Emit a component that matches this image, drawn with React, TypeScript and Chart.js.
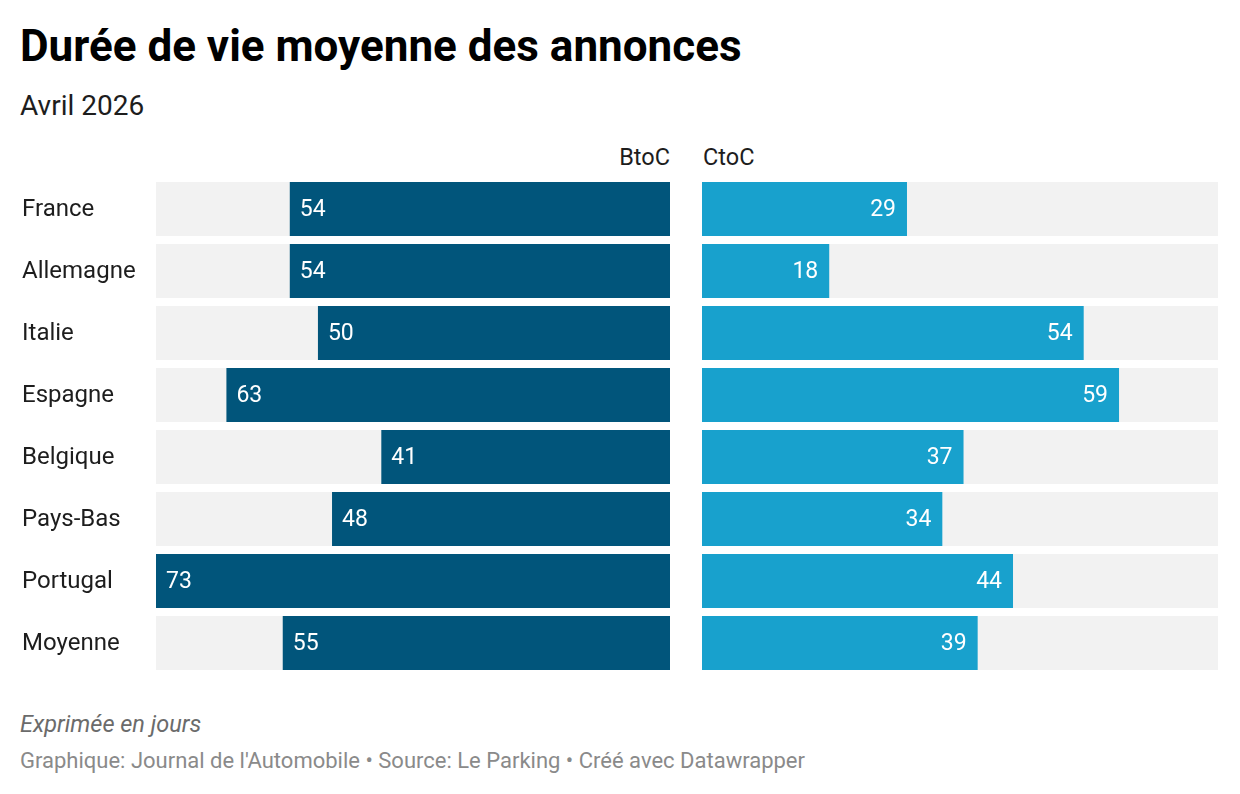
import React, { useEffect, useRef } from "react";
import { Chart, registerables } from "chart.js";

Chart.register(...registerables);

const categories = ["France", "Allemagne", "Italie", "Espagne", "Belgique", "Pays-Bas", "Portugal", "Moyenne"];
const btocValues = [54, 54, 50, 63, 41, 48, 73, 55];
const ctocValues = [29, 18, 54, 59, 37, 34, 44, 39];
const scaleMax = 73;
const backgroundValues = categories.map(() => scaleMax);

const FONT = "Roboto, 'Noto Sans', sans-serif";
const DARK = "#01557b";
const LIGHT = "#18a1cd";
const GREY = "#f2f2f2";

const valueLabelPlugin = (align: "left" | "right") => ({
  id: "valueLabels" + align,
  afterDatasetsDraw(chart: any) {
    const ctx = chart.ctx;
    const meta = chart.getDatasetMeta(1);
    const data = chart.data.datasets[1].data;
    ctx.save();
    ctx.font = `23px ${FONT}`;
    ctx.fillStyle = "#ffffff";
    ctx.textBaseline = "middle";
    meta.data.forEach((bar: any, i: number) => {
      const { x, y, base } = bar.getProps(["x", "y", "base"], true);
      if (align === "left") {
        ctx.textAlign = "left";
        ctx.fillText(String(data[i]), Math.min(x, base) + 10, y + 1);
      } else {
        ctx.textAlign = "right";
        ctx.fillText(String(data[i]), Math.max(x, base) - 11, y + 1);
      }
    });
    ctx.restore();
  },
});

function makeConfig(values: number[], color: string, side: "left" | "right"): any {
  return {
    type: "bar",
    data: {
      labels: categories,
      datasets: [
        {
          data: backgroundValues,
          backgroundColor: GREY,
          grouped: false,
          order: 2,
          categoryPercentage: 1,
          barPercentage: 54 / 62,
        },
        {
          data: values,
          backgroundColor: color,
          grouped: false,
          order: 1,
          categoryPercentage: 1,
          barPercentage: 54 / 62,
        },
      ],
    },
    options: {
      indexAxis: "y",
      animation: false,
      responsive: false,
      maintainAspectRatio: false,
      events: [],
      layout: {
        padding: side === "left"
          ? { left: 22, right: 16, top: 0, bottom: 0 }
          : { left: 16, right: 22, top: 0, bottom: 0 },
      },
      plugins: { legend: { display: false }, tooltip: { enabled: false } },
      scales: {
        x: {
          display: false,
          min: 0,
          max: scaleMax,
          reverse: side === "left",
        },
        y: {
          display: side === "left",
          grid: { display: false, drawTicks: false },
          border: { display: false },
          ticks: {
            crossAlign: "far",
            padding: 0,
            labelOffset: 1,
            color: "#1d1d1d",
            font: { family: FONT, size: 24 },
          },
          afterFit: (scale: any) => {
            if (side === "left") {
              scale.width = 134;
            }
            scale.paddingTop = 0;
            scale.paddingBottom = 0;
          },
        },
      },
    },
    plugins: [valueLabelPlugin(side)],
  };
}

function BarPanel({ values, color, side, left, width }: { values: number[]; color: string; side: "left" | "right"; left: number; width: number }) {
  const ref = useRef<HTMLCanvasElement | null>(null);
  useEffect(() => {
    if (!ref.current) return;
    const chart = new Chart(ref.current, makeConfig(values, color, side));
    return () => chart.destroy();
  }, []);
  return (
    <div style={{ position: "absolute", left, top: 178, width, height: 496 }}>
      <canvas ref={ref} width={width} height={496} style={{ width, height: 496, display: "block" }} />
    </div>
  );
}

export default function App() {
  useEffect(() => {
    document.body.style.margin = "0";
    document.body.style.background = "#ffffff";
  }, []);
  const text: React.CSSProperties = { position: "absolute", fontFamily: FONT, whiteSpace: "nowrap", lineHeight: 1 };
  return (
    <div style={{ position: "relative", width: 1240, height: 794, background: "#fff", overflow: "hidden" }}>
      <div style={{ ...text, left: 20, top: 24, fontSize: 44, fontWeight: 700, color: "#000" }}>
        Durée de vie moyenne des annonces
      </div>
      <div style={{ ...text, left: 20, top: 92, fontSize: 28, color: "#1d1d1d" }}>Avril 2026</div>
      <div style={{ ...text, right: 1240 - 670, top: 146, fontSize: 23.5, color: "#1d1d1d" }}>BtoC</div>
      <div style={{ ...text, left: 703, top: 146, fontSize: 23.5, color: "#1d1d1d" }}>CtoC</div>
      <BarPanel values={btocValues} color={DARK} side="left" left={0} width={686} />
      <BarPanel values={ctocValues} color={LIGHT} side="right" left={686} width={554} />
      <div style={{ ...text, left: 20, top: 713, fontSize: 23.5, fontStyle: "italic", color: "#6b6b6b" }}>
        Exprimée en jours
      </div>
      <div style={{ ...text, left: 20, top: 750, fontSize: 22, color: "#8a8a8a" }}>
        Graphique: Journal de l'Automobile • Source: Le Parking • Créé avec Datawrapper
      </div>
    </div>
  );
}
